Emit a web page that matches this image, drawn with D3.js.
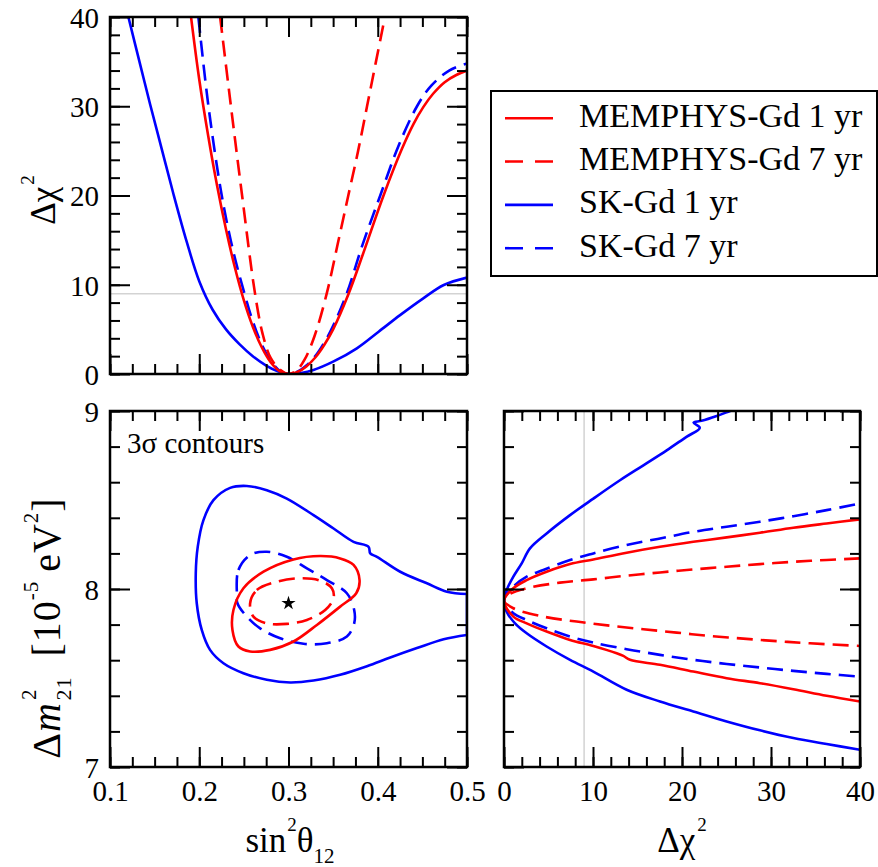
<!DOCTYPE html>
<html>
<head>
<meta charset="utf-8">
<script src="https://cdn.jsdelivr.net/npm/d3@7"></script>
<style>
body { margin: 0; background: #fff; }
svg { display: block; }
svg text { font-family: "Liberation Serif", "Times New Roman", serif; }
</style>
</head>
<body>
<svg id="chart" width="878" height="867"></svg>
<script>
// ---- data ----
var seriesNames = ["MEMPHYS-Gd 1 yr", "MEMPHYS-Gd 7 yr", "SK-Gd 1 yr", "SK-Gd 7 yr"];

var sinMajor = [0.1, 0.2, 0.3, 0.4, 0.5];
var chiMajor = [0, 10, 20, 30, 40];
var dmMajor = [7, 8, 9];
var chiLevel = 9;          // 3 sigma line
var bestFit = [0.3, 7.92];

// top panel: delta chi^2 vs sin^2(theta12)
var chiMem1 = [[0.1908,40],[0.2,33],[0.21,26.7],[0.22,21.1],[0.23,16.2],[0.24,11.9],[0.25,8.25],[0.26,5.3],
  [0.27,3.0],[0.28,1.32],[0.29,0.33],[0.3,0],[0.31,0.22],[0.32,0.85],[0.33,1.85],[0.34,3.25],[0.35,5.0],
  [0.367,8.9],[0.384,13.6],[0.4065,20],[0.427,25.2],[0.44,28.0],[0.451,29.9],[0.462,31.4],[0.475,32.7],
  [0.488,33.5],[0.5,34.0]];
var chiMem7 = [[0.2234,40],[0.2355,30],[0.248,20],[0.2625,9],[0.271,4.5],[0.28,1.8],[0.291,0.45],[0.3,0],
  [0.309,0.4],[0.318,1.6],[0.329,4.2],[0.3428,9],[0.355,14.5],[0.367,20],[0.378,25],[0.388,30],[0.398,35],
  [0.408,40]];
var chiSk1 = [[0.1206,40],[0.133,35],[0.145,30.2],[0.158,25.2],[0.171,20.2],[0.186,14.8],[0.2,10.4],[0.215,7.2],
  [0.23,5.0],[0.245,3.35],[0.26,2.0],[0.275,0.95],[0.288,0.3],[0.3,0],[0.314,0.12],[0.328,0.45],[0.35,1.38],
  [0.3766,2.88],[0.401,4.74],[0.425,6.6],[0.451,8.48],[0.474,9.97],[0.5,10.8]];
var chiSk7 = [[0.199,40],[0.2103,30],[0.2252,20],[0.2375,14],[0.2507,9],[0.26,5.9],[0.27,3.3],[0.28,1.5],
  [0.29,0.37],[0.3,0],[0.31,0.25],[0.32,0.95],[0.33,2.0],[0.34,3.5],[0.35,5.4],[0.3652,9],[0.383,14.5],
  [0.4028,20],[0.423,25.5],[0.444,30],[0.46,32.3],[0.48,34],[0.5,34.8]];

// lower left: 3 sigma contours in (sin^2, dm^2)
var contMem1 = [[0.2383,7.882],[0.2495,8.004],[0.2720,8.097],[0.3056,8.166],[0.3355,8.185],[0.3579,8.172],
  [0.3729,8.135],[0.3796,8.050],[0.3759,7.976],[0.3579,7.901],[0.3318,7.798],[0.3056,7.705],[0.2794,7.658],
  [0.2570,7.649],[0.2439,7.677],[0.2372,7.770]];
var contMem7 = [[0.2570,7.920],[0.2645,7.994],[0.2869,8.041],[0.3131,8.060],[0.3355,8.047],[0.3486,8.004],
  [0.3505,7.948],[0.3411,7.882],[0.3206,7.826],[0.2981,7.804],[0.2757,7.807],[0.2607,7.845]];
var contSk1 = [[0.5,7.972],[0.4776,7.985],[0.4551,8.032],[0.4252,8.097],[0.3991,8.181],[0.3916,8.200],
  [0.3897,8.237],[0.3729,8.265],[0.3505,8.340],[0.3280,8.415],[0.2981,8.508],[0.2757,8.555],[0.2533,8.579],
  [0.2346,8.568],[0.2159,8.499],[0.2047,8.387],[0.1983,8.237],[0.1961,8.088],[0.1972,7.920],[0.2028,7.770],
  [0.2121,7.658],[0.2271,7.583],[0.2495,7.527],[0.2757,7.490],[0.3019,7.475],[0.3280,7.486],[0.3579,7.518],
  [0.3879,7.566],[0.4140,7.615],[0.4439,7.668],[0.4738,7.718],[0.5,7.742]];
var contSk7 = [[0.2421,7.976],[0.2439,8.107],[0.2570,8.191],[0.2757,8.209],[0.2981,8.181],[0.3206,8.116],
  [0.3430,8.050],[0.3654,7.976],[0.3736,7.882],[0.3736,7.807],[0.3654,7.733],[0.3430,7.695],[0.3168,7.692],
  [0.2907,7.723],[0.2682,7.779],[0.2533,7.845],[0.2428,7.920]];

// lower right: dm^2 vs delta chi^2 (upper and lower branches, meeting at the minimum)
var dmVertex = [0, 7.935];
var dmMem1Up = [[1.05,8.004],[2.55,8.050],[4.79,8.097],[7.42,8.140],[10.04,8.166],[13.78,8.204],[17.53,8.237],
  [21.27,8.265],[25.02,8.290],[28.76,8.316],[32.51,8.344],[36.25,8.368],[40,8.391]];
var dmMem1Lo = [[1.05,7.845],[2.55,7.807],[4.79,7.761],[7.42,7.714],[10.04,7.680],[12.66,7.639],[13.41,7.624],
  [14.16,7.602],[17.53,7.574],[21.27,7.536],[25.02,7.499],[28.76,7.471],[32.51,7.437],[36.25,7.400],[40,7.368]];
var dmMem7Up = [[0.67,7.972],[2.55,8.004],[6.29,8.036],[10.04,8.054],[13.78,8.075],[17.53,8.093],[21.27,8.110],
  [25.02,8.125],[28.76,8.140],[32.51,8.153],[36.25,8.163],[40,8.172]];
var dmMem7Lo = [[1.05,7.892],[4.42,7.845],[8.16,7.817],[11.91,7.794],[15.66,7.774],[19.40,7.755],[23.15,7.736],
  [26.89,7.721],[30.64,7.707],[34.38,7.695],[40,7.680]];
var dmSk1Up = [[0.3,7.994],[1.05,8.069],[1.99,8.144],[2.92,8.228],[4.79,8.312],[7.42,8.415],[10.04,8.508],
  [13.03,8.611],[15.66,8.695],[18.28,8.779],[20.5,8.855],[22.0,8.905],[21.3,8.935],[22.2,8.945],[23.9,8.972],
  [25.4,9.0],[27,9.03]];
var dmSk1Lo = [[0.3,7.873],[1.24,7.807],[2.55,7.751],[4.79,7.677],[7.42,7.602],[10.04,7.536],[13.78,7.434],
  [17.53,7.368],[21.27,7.312],[25.02,7.256],[28.76,7.206],[32.51,7.163],[36.25,7.129],[40,7.097]];
var dmSk7Up = [[1.05,8.013],[2.55,8.069],[4.42,8.107],[7.42,8.163],[10.04,8.200],[13.78,8.247],[17.53,8.284],
  [21.27,8.321],[25.02,8.350],[28.76,8.378],[32.51,8.409],[36.25,8.443],[39.44,8.475]];
var dmSk7Lo = [[1.05,7.864],[2.55,7.826],[4.79,7.779],[7.42,7.733],[10.04,7.699],[13.78,7.662],[17.53,7.630],
  [21.27,7.602],[25.02,7.579],[28.76,7.559],[32.51,7.540],[36.25,7.523],[40,7.508]];

// ---- styles ----
var red = "#ff0000", blue = "#0000ff";
var dash = "16,8";
var styles = [
  { color: red, dash: null },
  { color: red, dash: dash },
  { color: blue, dash: null },
  { color: blue, dash: dash }
];
var tickFont = 29, titleFont = 35;

// ---- layout ----
var panelTL = { x0: 110, x1: 467, y0: 17, y1: 374 };
var panelBL = { x0: 110, x1: 467, y0: 411, y1: 767 };
var panelBR = { x0: 504, x1: 860, y0: 411, y1: 767 };

var sinX = d3.scaleLinear().domain([0.1, 0.5]).range([panelBL.x0, panelBL.x1]);
var chiY = d3.scaleLinear().domain([0, 40]).range([panelTL.y1, panelTL.y0]);
var dmY = d3.scaleLinear().domain([7, 9]).range([panelBL.y1, panelBL.y0]);
var chiX = d3.scaleLinear().domain([0, 40]).range([panelBR.x0, panelBR.x1]);

var svg = d3.select("#chart");
var defs = svg.append("defs");

function clipFor(id, p) {
  defs.append("clipPath").attr("id", id)
    .append("rect")
    .attr("x", p.x0).attr("y", p.y0)
    .attr("width", p.x1 - p.x0).attr("height", p.y1 - p.y0);
  return "url(#" + id + ")";
}

function range(a, b, step) {
  var out = [];
  for (var v = a; v <= b + step / 2; v += step) out.push(+v.toFixed(4));
  return out;
}

function styleAxis(g) {
  g.select(".domain").remove();
  g.selectAll("line").attr("stroke", "#000").attr("stroke-width", 2);
  g.attr("font-size", tickFont);
  g.selectAll("text").attr("fill", "#000");
}

// ticks on all four sides, pointing inwards
function drawFrame(p, xs, ys, cfg) {
  var g = svg.append("g");
  var sides = [
    { fn: d3.axisBottom, s: xs, t: "translate(0," + p.y1 + ")", major: cfg.xMajor, minor: cfg.xMinor, fmt: cfg.xFmt },
    { fn: d3.axisTop, s: xs, t: "translate(0," + p.y0 + ")", major: cfg.xMajor, minor: cfg.xMinor, fmt: null },
    { fn: d3.axisLeft, s: ys, t: "translate(" + p.x0 + ",0)", major: cfg.yMajor, minor: cfg.yMinor, fmt: cfg.yFmt },
    { fn: d3.axisRight, s: ys, t: "translate(" + p.x1 + ",0)", major: cfg.yMajor, minor: cfg.yMinor, fmt: null }
  ];
  sides.forEach(function (sd) {
    g.append("g").attr("transform", sd.t)
      .call(sd.fn(sd.s).tickValues(sd.minor).tickSize(-10).tickFormat(""))
      .call(styleAxis);
    var ax = g.append("g").attr("transform", sd.t)
      .call(sd.fn(sd.s).tickValues(sd.major).tickSize(-20)
        .tickPadding(sd.fn === d3.axisLeft ? 11 : 13)
        .tickFormat(sd.fmt || function () { return ""; }))
      .call(styleAxis);
    if (sd.fn === d3.axisLeft) ax.selectAll("text").attr("dy", "0.36em");
  });
  g.append("rect")
    .attr("x", p.x0).attr("y", p.y0)
    .attr("width", p.x1 - p.x0).attr("height", p.y1 - p.y0)
    .attr("fill", "none").attr("stroke", "#000").attr("stroke-width", 2.5);
}

function drawCurve(g, pts, xs, ys, st, closed) {
  var line = d3.line()
    .x(function (d) { return xs(d[0]); })
    .y(function (d) { return ys(d[1]); })
    .curve(closed === "smooth" ? d3.curveCatmullRomClosed.alpha(0.5) : d3.curveCatmullRom.alpha(0.5));
  var dstr = line(pts) + (closed === "straight" ? "Z" : "");
  g.append("path")
    .attr("d", dstr)
    .attr("fill", "none")
    .attr("stroke", st.color)
    .attr("stroke-width", 2.6)
    .attr("stroke-dasharray", st.dash);
}

// ---- top-left panel ----
var gTL = svg.append("g").attr("clip-path", clipFor("clipTL", panelTL));
gTL.append("line")
  .attr("x1", panelTL.x0).attr("x2", panelTL.x1)
  .attr("y1", chiY(chiLevel)).attr("y2", chiY(chiLevel))
  .attr("stroke", "#d3d3d3").attr("stroke-width", 1.5);
var chiCurves = [chiMem1, chiMem7, chiSk1, chiSk7];
[2, 3, 0, 1].forEach(function (i) { drawCurve(gTL, chiCurves[i], sinX, chiY, styles[i]); });
drawFrame(panelTL, sinX, chiY, {
  xMajor: sinMajor, xMinor: range(0.1, 0.5, 0.025), xFmt: null,
  yMajor: chiMajor, yMinor: range(0, 40, 2), yFmt: d3.format("d")
});

// ---- bottom-left panel ----
var gBL = svg.append("g").attr("clip-path", clipFor("clipBL", panelBL));
drawCurve(gBL, contSk1, sinX, dmY, styles[2], "straight");
drawCurve(gBL, contSk7, sinX, dmY, styles[3], "smooth");
drawCurve(gBL, contMem1, sinX, dmY, styles[0], "smooth");
drawCurve(gBL, contMem7, sinX, dmY, styles[1], "smooth");
gBL.append("path")
  .attr("d", d3.symbol(d3.symbolStar, 63)())
  .attr("transform", "translate(" + sinX(bestFit[0]) + "," + dmY(bestFit[1]) + ")")
  .attr("fill", "#000");
drawFrame(panelBL, sinX, dmY, {
  xMajor: sinMajor, xMinor: range(0.1, 0.5, 0.025), xFmt: d3.format(".1f"),
  yMajor: dmMajor, yMinor: range(7, 9, 0.2), yFmt: d3.format("d")
});
svg.append("text")
  .attr("x", 127).attr("y", 452.7)
  .attr("font-size", 29)
  .text("3σ contours");

// ---- bottom-right panel ----
var gBR = svg.append("g").attr("clip-path", clipFor("clipBR", panelBR));
gBR.append("line")
  .attr("x1", chiX(chiLevel)).attr("x2", chiX(chiLevel))
  .attr("y1", panelBR.y0).attr("y2", panelBR.y1)
  .attr("stroke", "#d3d3d3").attr("stroke-width", 1.5);
var branches = [[dmMem1Up, dmMem1Lo], [dmMem7Up, dmMem7Lo], [dmSk1Up, dmSk1Lo], [dmSk7Up, dmSk7Lo]];
[2, 3, 0, 1].forEach(function (i) {
  var pts = branches[i][0].slice().reverse().concat([dmVertex], branches[i][1]);
  drawCurve(gBR, pts, chiX, dmY, styles[i]);
});
drawFrame(panelBR, chiX, dmY, {
  xMajor: chiMajor, xMinor: range(0, 40, 2), xFmt: d3.format("d"),
  yMajor: dmMajor, yMinor: range(7, 9, 0.2), yFmt: null
});

// ---- axis titles ----
function chiTitle(sel) {
  sel.append("tspan").text("Δχ");
  sel.append("tspan").attr("font-size", 19).attr("dy", -21).attr("dx", 2).text("2");
}

var tY = svg.append("text")
  .attr("transform", "translate(55,200) rotate(-90)")
  .attr("text-anchor", "middle").attr("font-size", titleFont);
chiTitle(tY);

var tX2 = svg.append("text")
  .attr("x", 682).attr("y", 851.7)
  .attr("text-anchor", "middle").attr("font-size", titleFont);
chiTitle(tX2);

var tX1 = svg.append("text")
  .attr("x", 290).attr("y", 851.7)
  .attr("text-anchor", "middle").attr("font-size", titleFont);
tX1.append("tspan").text("sin");
tX1.append("tspan").attr("font-size", 19).attr("dy", -21).attr("dx", 1).text("2");
tX1.append("tspan").attr("dy", 21).text("θ");
tX1.append("tspan").attr("font-size", 21).attr("dy", 11).text("12");

var tY2 = svg.append("text")
  .attr("transform", "translate(60,628) rotate(-90)")
  .attr("text-anchor", "middle").attr("font-size", 40)
  .attr("letter-spacing", 1);
tY2.append("tspan").text("Δ");
tY2.append("tspan").attr("font-style", "italic").text("m");
tY2.append("tspan").attr("font-size", 21).attr("dy", -24).attr("dx", 2).text("2");
tY2.append("tspan").attr("font-size", 22).attr("dx", -12).attr("dy", 35).text("21");
tY2.append("tspan").attr("dy", -11).attr("dx", 20).text("[10");
tY2.append("tspan").attr("font-size", 21).attr("dy", -22).text("-5");
tY2.append("tspan").attr("dy", 22).attr("dx", 9).text("eV");
tY2.append("tspan").attr("font-size", 21).attr("dy", -22).text("2");
tY2.append("tspan").attr("dy", 22).text("]");

// ---- legend ----
var legend = svg.append("g");
legend.append("rect")
  .attr("x", 491).attr("y", 91).attr("width", 386).attr("height", 185)
  .attr("fill", "#fff").attr("stroke", "#000").attr("stroke-width", 2);
var legendY = d3.scalePoint().domain(seriesNames).range([126.7, 256.7]);
seriesNames.forEach(function (name, i) {
  var y = legendY(name);
  legend.append("line")
    .attr("x1", 505).attr("x2", 553)
    .attr("y1", y - 8.5).attr("y2", y - 8.5)
    .attr("stroke", styles[i].color).attr("stroke-width", 2.6)
    .attr("stroke-dasharray", styles[i].dash ? "18,12" : null);
  legend.append("text")
    .attr("x", 579).attr("y", y)
    .attr("font-size", 34)
    .text(name);
});
</script>
</body>
</html>
